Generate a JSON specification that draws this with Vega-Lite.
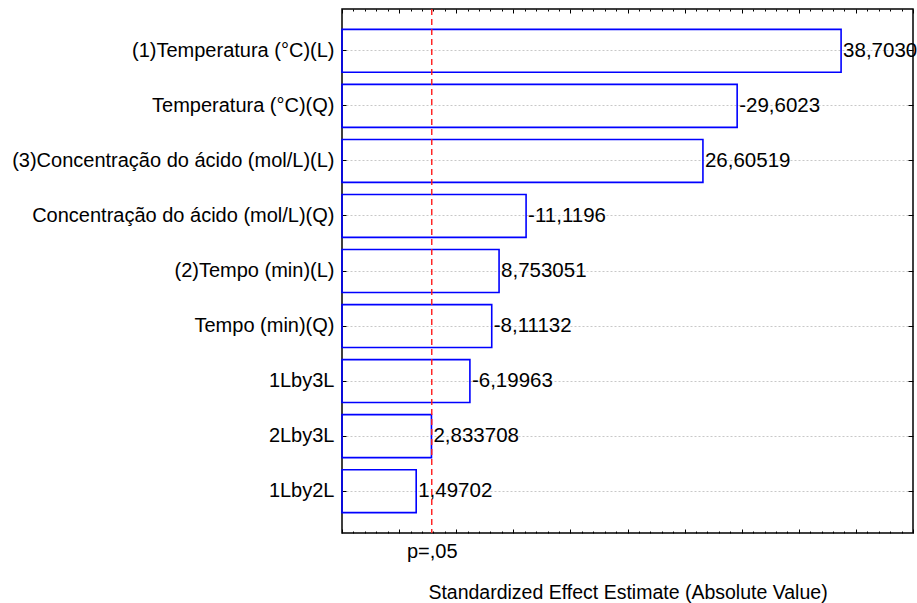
{
  "$schema": "https://vega.github.io/schema/vega-lite/v6.json",
  "autosize": "none",
  "width": 571,
  "height": 524,
  "padding": {"left": 342, "top": 9, "right": 4, "bottom": 70},
  "background": "white",
  "config": {
    "view": {"stroke": "#000000", "strokeWidth": 1.5},
    "font": "Liberation Sans",
    "axis": {
      "labelFont": "Liberation Sans",
      "titleFont": "Liberation Sans",
      "labelFontSize": 20,
      "titleFontSize": 19.5,
      "labelLimit": 500,
      "labelColor": "#000000",
      "titleColor": "#000000",
      "titleFontWeight": "normal",
      "tickColor": "#000000",
      "domain": false
    }
  },
  "data": {
    "values": [
      {"term": "(1)Temperatura (°C)(L)", "effect": 38.7030, "label": "38,7030"},
      {"term": "Temperatura (°C)(Q)", "effect": 29.6023, "label": "-29,6023"},
      {"term": "(3)Concentração do ácido (mol/L)(L)", "effect": 26.60519, "label": "26,60519"},
      {"term": "Concentração do ácido (mol/L)(Q)", "effect": 11.1196, "label": "-11,1196"},
      {"term": "(2)Tempo (min)(L)", "effect": 8.753051, "label": "8,753051"},
      {"term": "Tempo (min)(Q)", "effect": 8.11132, "label": "-8,11132"},
      {"term": "1Lby3L", "effect": 6.19963, "label": "-6,19963"},
      {"term": "2Lby3L", "effect": 2.833708, "label": "2,833708"},
      {"term": "1Lby2L", "effect": 1.49702, "label": "1,49702"}
    ]
  },
  "resolve": {"axis": {"x": "independent", "y": "independent"}},
  "layer": [
    {
      "mark": {"type": "bar", "fill": null, "fillOpacity": 0, "stroke": "#0000ff", "strokeWidth": 1.6},
      "encoding": {
        "y": {
          "field": "term", "type": "nominal", "sort": null,
          "scale": {"paddingInner": 0.22, "paddingOuter": 0.37},
          "axis": {
            "orient": "left", "title": null, "tickSize": -4, "labelPadding": 12,
            "grid": true, "gridColor": "#c8c8c8", "gridDash": [2, 2], "gridWidth": 1
          }
        },
        "x": {
          "field": "effect", "type": "quantitative",
          "scale": {"domain": [-5, 45], "nice": false, "zero": false},
          "axis": {
            "orient": "bottom",
            "values": [-5, -4, -3, -2, -1, 0, 1, 2, 2.86, 3, 4, 5, 6, 7, 8, 9, 10, 11, 12, 13, 14, 15, 16, 17, 18, 19, 20, 21, 22, 23, 24, 25, 26, 27, 28, 29, 30, 31, 32, 33, 34, 35, 36, 37, 38, 39, 40, 41, 42, 43, 44, 45],
            "tickSize": {"condition": {"test": "datum.value % 5 === 0", "value": -4}, "value": -2},
            "tickOpacity": {"condition": {"test": "datum.value === 2.86", "value": 0}, "value": 1},
            "labelExpr": "datum.value === 2.86 ? 'p=,05' : ''",
            "labelOverlap": false,
            "labelPadding": 10,
            "grid": false,
            "title": "Standardized Effect Estimate (Absolute Value)",
            "titlePadding": 22
          }
        },
        "x2": {"datum": -5}
      }
    },
    {
      "mark": {"type": "text", "align": "left", "baseline": "middle", "dx": 2, "fontSize": 20.5, "font": "Liberation Sans", "color": "#000000"},
      "encoding": {
        "y": {
          "field": "term", "type": "nominal", "sort": null,
          "axis": {"orient": "right", "title": null, "labels": false, "tickSize": -5, "grid": false}
        },
        "x": {
          "field": "effect", "type": "quantitative",
          "axis": {
            "orient": "top", "title": null, "labels": false, "grid": false,
            "values": [-5, -4, -3, -2, -1, 0, 1, 2, 3, 4, 5, 6, 7, 8, 9, 10, 11, 12, 13, 14, 15, 16, 17, 18, 19, 20, 21, 22, 23, 24, 25, 26, 27, 28, 29, 30, 31, 32, 33, 34, 35, 36, 37, 38, 39, 40, 41, 42, 43, 44, 45],
            "tickSize": {"condition": {"test": "datum.value % 5 === 0", "value": -4}, "value": -2}
          }
        },
        "text": {"field": "label"}
      }
    },
    {
      "data": {"values": [{"p": 2.86}]},
      "mark": {"type": "rule", "color": "#ff1a1a", "strokeWidth": 1.4, "strokeDash": [6, 4]},
      "encoding": {
        "x": {"field": "p", "type": "quantitative", "axis": null}
      }
    }
  ]
}
